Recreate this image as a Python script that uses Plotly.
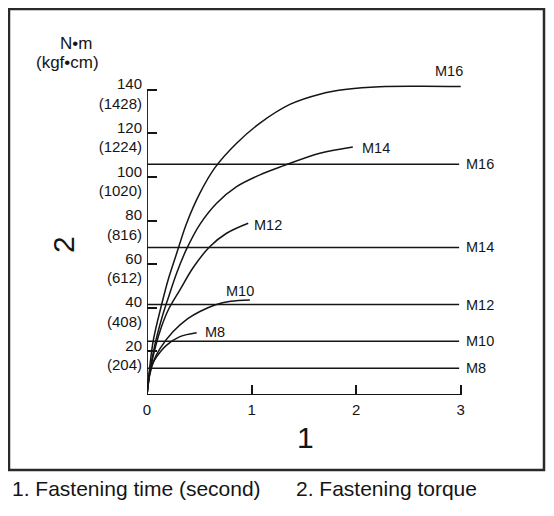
import plotly.graph_objects as go

# ---------------- data ----------------
# fastening torque curves (time in s, torque in N·m)
M8_T = [0, 0.019, 0.048, 0.093, 0.188, 0.315, 0.475]
M8_V = [0, 9.2, 13.8, 17.6, 22.9, 26.8, 28.6]

M10_T = [0, 0.025, 0.067, 0.124, 0.248, 0.39, 0.506, 0.65, 0.8, 0.984]
M10_V = [0, 9, 16, 21.3, 29, 35, 38.3, 41.3, 43, 43.6]

M12_T = [0, 0.03, 0.08, 0.14, 0.203, 0.315, 0.442, 0.602, 0.761, 0.968]
M12_V = [0, 11, 22, 31.5, 39, 48.2, 58.5, 68.1, 74.2, 78.8]

M14_T = [0, 0.025, 0.075, 0.14, 0.203, 0.284, 0.379, 0.506, 0.666, 0.857,
         1.08, 1.302, 1.653, 1.968]
M14_V = [0, 10, 23, 35, 44.5, 56, 67, 78.3, 88, 95.6,
         101, 105.1, 110.9, 113.8]

M16_T = [0, 0.02, 0.06, 0.14, 0.203, 0.284, 0.379, 0.506, 0.65, 0.857,
         1.08, 1.366, 1.653, 1.911, 2.226, 2.608, 3.0]
M16_V = [0, 10, 25, 41.5, 53, 65, 78.8, 92.6, 104.3, 115.5,
         124.7, 133.3, 138, 140.2, 141.4, 141.6, 141.5]

# recommended torque levels (horizontal lines)
LEVEL_SIZES = ["M16", "M14", "M12", "M10", "M8"]
LEVEL_VALUES = [105.9, 67.7, 41.5, 24.7, 12.3]
LEVEL_END = 2.985

# axis ticks
X_TICKS = [0, 1, 2, 3]
X_TICK_LABELS = ["0", "1", "2", "3"]
Y_TICKS = [20, 40, 60, 80, 100, 120, 140]
Y_TICK_KGF = [204, 408, 612, 816, 1020, 1224, 1428]

CURVES = [
    ("M8", M8_T, M8_V),
    ("M10", M10_T, M10_V),
    ("M12", M12_T, M12_V),
    ("M14", M14_T, M14_V),
    ("M16", M16_T, M16_V),
]

# ---------------- layout geometry ----------------
# page body has an 8px margin, so the figure is drawn from (8, 8)
W, H = 538, 500
PW, PH = 366, 327
ML, MT = 139, 60
MR, MB = W - ML - PW, H - MT - PH
XR = [0, 3.5]
YR = [0, 150]
X0PX, Y0PX = 147, 395  # screen position of the data origin

def px_x(p):  # screen pixel -> paper x
    return (p - X0PX) / PW

def px_y(p):  # screen pixel -> paper y
    return (Y0PX - p) / PH

FONT = "Arial, Liberation Sans, sans-serif"
INK = "#151515"

fig = go.Figure()

for name, t, v in CURVES:
    fig.add_trace(go.Scatter(
        x=t, y=v, mode="lines", name=name,
        line=dict(color=INK, width=1.5, shape="spline", smoothing=1.0),
        hoverinfo="skip", showlegend=False))

for name, val in zip(LEVEL_SIZES, LEVEL_VALUES):
    fig.add_trace(go.Scatter(
        x=[0, LEVEL_END], y=[val, val], mode="lines",
        line=dict(color=INK, width=1.5), hoverinfo="skip", showlegend=False))

annotations = []
for name, val in zip(LEVEL_SIZES, LEVEL_VALUES):
    annotations.append(dict(x=3.03, y=val, xref="x", yref="y", text=name,
                            showarrow=False, xanchor="left", yanchor="middle",
                            font=dict(size=14.5, color=INK, family=FONT)))

curve_labels = [
    ("M16", 2.885, 148.7, "center"),
    ("M14", 2.04, 113.4, "left"),
    ("M12", 1.0, 77.8, "left"),
    ("M10", 0.893, 47.5, "center"),
    ("M8", 0.535, 28.9, "left"),
]
for name, x, y, anc in curve_labels:
    annotations.append(dict(x=x, y=y, xref="x", yref="y", text=name,
                            showarrow=False, xanchor=anc, yanchor="middle",
                            font=dict(size=14.5, color=INK, family=FONT)))

annotations.append(dict(x=px_x(76), y=px_y(43), xref="paper", yref="paper",
                        text="N•m", showarrow=False, xanchor="center", yanchor="middle",
                        font=dict(size=17, color=INK, family=FONT)))
annotations.append(dict(x=px_x(67), y=px_y(62), xref="paper", yref="paper",
                        text="(kgf•cm)", showarrow=False, xanchor="center", yanchor="middle",
                        font=dict(size=17, color=INK, family=FONT)))

annotations.append(dict(x=px_x(305), y=px_y(437), xref="paper", yref="paper",
                        text="1", showarrow=False, xanchor="center", yanchor="middle",
                        font=dict(size=30, color=INK, family=FONT)))
annotations.append(dict(x=px_x(63), y=px_y(245), xref="paper", yref="paper",
                        text="2", textangle=-90, showarrow=False,
                        xanchor="center", yanchor="middle",
                        font=dict(size=30, color=INK, family=FONT)))

annotations.append(dict(x=px_x(10), y=px_y(488), xref="paper", yref="paper",
                        text="1. Fastening time (second)", showarrow=False,
                        xanchor="left", yanchor="middle",
                        font=dict(size=21, color=INK, family=FONT)))
annotations.append(dict(x=px_x(294), y=px_y(488), xref="paper", yref="paper",
                        text="2. Fastening torque", showarrow=False,
                        xanchor="left", yanchor="middle",
                        font=dict(size=21, color=INK, family=FONT)))

shapes = [
    dict(type="line", xref="x", yref="y", x0=0, y0=0, x1=0, y1=max(Y_TICKS),
         line=dict(color=INK, width=1.8)),
    dict(type="line", xref="x", yref="y", x0=0, y0=0, x1=max(X_TICKS), y1=0,
         line=dict(color=INK, width=1.8)),
    dict(type="rect", xref="paper", yref="paper",
         x0=px_x(9), x1=px_x(544), y0=px_y(470), y1=px_y(9),
         line=dict(color="#2a2a2a", width=2.5)),
]

fig.update_layout(
    width=W, height=H, autosize=False,
    margin=dict(l=ML, r=MR, t=MT, b=MB, pad=0),
    paper_bgcolor="white", plot_bgcolor="white",
    font=dict(family=FONT, color=INK),
    annotations=annotations, shapes=shapes,
    xaxis=dict(range=XR, showgrid=False, zeroline=False, showline=False,
               tickvals=X_TICKS, ticktext=X_TICK_LABELS,
               ticks="inside", ticklen=10, tickwidth=1.5, tickcolor=INK,
               tickfont=dict(size=15, color=INK, family=FONT),
               ticklabelstandoff=4, fixedrange=True),
    yaxis=dict(range=YR, showgrid=False, zeroline=False, showline=False,
               tickvals=Y_TICKS,
               ticktext=[f"{v}<br>({k})" for v, k in zip(Y_TICKS, Y_TICK_KGF)],
               ticks="inside", ticklen=10, tickwidth=1.5, tickcolor=INK,
               tickfont=dict(size=15, color=INK, family=FONT),
               ticklabelstandoff=4, ticklabelshift=4, fixedrange=True),
)

fig.write_html("out.html")
